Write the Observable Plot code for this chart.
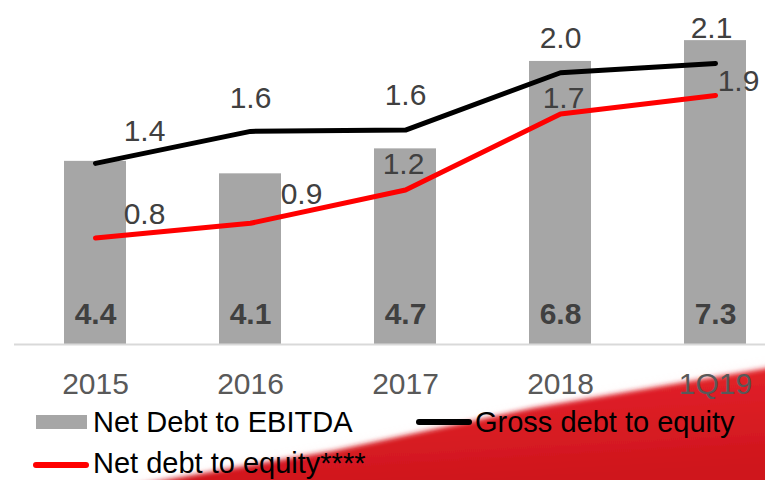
<!DOCTYPE html>
<html><head><meta charset="utf-8">
<script src="https://cdn.jsdelivr.net/npm/d3@7"></script>
<script src="https://cdn.jsdelivr.net/npm/@observablehq/plot@0.6"></script>
<style>
html,body{margin:0;padding:0;background:#fff;overflow:hidden;width:765px;height:480px}
#wrap{position:relative;width:765px;height:480px;overflow:hidden;font-family:"Liberation Sans",Arial,sans-serif}
#deco{position:absolute;left:0;top:0}
#chart{position:absolute;left:0;top:0}
#chart svg{max-width:none !important}
.leg{position:absolute;font-size:29px;color:#000;line-height:26px;white-space:nowrap}
.sw{position:absolute}
</style></head>
<body>
<div id="wrap">
<svg id="deco" width="765" height="480">
  <defs>
    <linearGradient id="rg" x1="0" y1="0" x2="0.3" y2="1">
      <stop offset="0" stop-color="#e9262d"/>
      <stop offset="1" stop-color="#cf161d"/>
    </linearGradient>
    <filter id="bl" x="-5%" y="-20%" width="110%" height="140%"><feGaussianBlur stdDeviation="2.5"/></filter>
    <filter id="bl2" x="-5%" y="-50%" width="110%" height="200%"><feGaussianBlur stdDeviation="6"/></filter>
  </defs>
  <path d="M100,492 L233,470 L333,452 L533,411 L775,367 L775,492 Z" fill="#f7c9cb" opacity="0.5" filter="url(#bl2)"/>
  <path d="M120,488 L233,468 L333,451 L533,408 L775,367 L775,488 Z" fill="url(#rg)" filter="url(#bl)"/>
</svg>
<div id="chart"></div>
<div id="legend"></div>
</div>
<script>
// ---- data ----
const periods = ["2015", "2016", "2017", "2018", "1Q19"];
const netDebtToEbitda = [4.4, 4.1, 4.7, 6.8, 7.3];
const grossDebtToEquity = [1.36, 1.60, 1.61, 2.04, 2.11];
const netDebtToEquity = [0.80, 0.91, 1.16, 1.73, 1.87];
const seriesNames = ["Net Debt to EBITDA", "Gross debt to equity", "Net debt to equity****"];

// ---- layout / style ----
const primaryMax = 8, secondaryMax = 2.5, k = primaryMax / secondaryMax;
const grossNudge = [[49, -32], [0, -33], [0, -35], [0, -34], [-4, -35]];
const netNudge = [[49, -24], [51, -29], [-2, -26], [3, -16], [23, -14]];
const font = '"Liberation Sans", Arial, sans-serif';

const bars = periods.map((p, i) => ({period: p, value: netDebtToEbitda[i]}));
const gross = periods.map((p, i) => ({period: p, value: grossDebtToEquity[i]}));
const net = periods.map((p, i) => ({period: p, value: netDebtToEquity[i]}));

const labelMarks = (data, nudge) => data.map((d, i) =>
  Plot.text([d], {x: "period", y: d => d.value * k, text: d => d.value.toFixed(1),
    dx: nudge[i][0], dy: nudge[i][1], fontSize: 30, fill: "#404040"}));

const plot = Plot.plot({
  width: 796, height: 404,
  marginLeft: 14, marginRight: 0, marginTop: 11, marginBottom: 60,
  style: {background: "transparent", fontFamily: font, overflow: "visible", maxWidth: "none"},
  x: {domain: periods, paddingInner: 0.6, paddingOuter: 0.307, label: null},
  y: {domain: [0, primaryMax], axis: null},
  marks: [
    Plot.barY(bars, {x: "period", y: "value", fill: "#a6a6a6"}),
    Plot.ruleY([0], {stroke: "#d9d9d9", strokeWidth: 2}),
    Plot.text(bars, {x: "period", y: 0, text: d => d.value.toFixed(1), dy: -30,
      fontSize: 30, fontWeight: "bold", fill: "#404040"}),
    Plot.line(gross, {x: "period", y: d => d.value * k, stroke: "#000", strokeWidth: 5,
      strokeLinecap: "round", strokeLinejoin: "round"}),
    Plot.line(net, {x: "period", y: d => d.value * k, stroke: "#ff0000", strokeWidth: 5,
      strokeLinecap: "round", strokeLinejoin: "round"}),
    ...labelMarks(gross, grossNudge),
    ...labelMarks(net, netNudge),
    Plot.axisX({tickSize: 0, tickPadding: 28, fontSize: 30, color: "#595959", label: null})
  ]
});
plot.style.maxWidth = "none";
document.getElementById("chart").appendChild(plot);

// ---- legend ----
const legend = document.getElementById("legend");
legend.innerHTML = `
  <div class="sw" style="left:36px;top:415px;width:51px;height:14px;background:#a6a6a6"></div>
  <div class="leg" style="left:93px;top:409px">${seriesNames[0]}</div>
  <div class="sw" style="left:416px;top:419px;width:56px;height:6px;background:#000;border-radius:3px"></div>
  <div class="leg" style="left:475px;top:409px">${seriesNames[1]}</div>
  <div class="sw" style="left:33px;top:462px;width:56px;height:6px;background:#ff0000;border-radius:3px"></div>
  <div class="leg" style="left:93px;top:450px">${seriesNames[2]}</div>
`;
</script>
</body></html>
